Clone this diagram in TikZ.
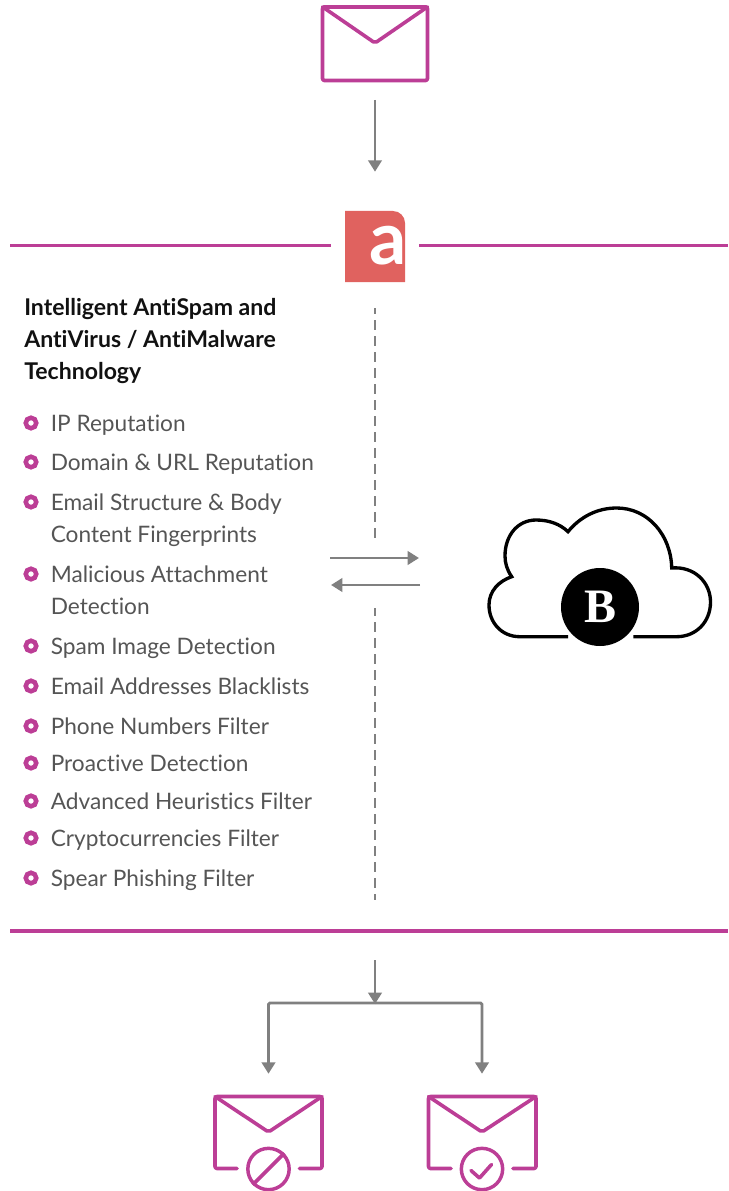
\documentclass[tikz,border=0pt]{standalone}
\usepackage{fontspec}
\setmainfont{Lato}[Ligatures=NoCommon]
\usetikzlibrary{arrows.meta,positioning,calc}
\definecolor{brandmagenta}{RGB}{188,62,150}
\definecolor{flowgray}{RGB}{128,128,128}
\definecolor{logored}{RGB}{224,98,95}
\definecolor{listgray}{RGB}{85,85,85}
\definecolor{titleblack}{RGB}{17,17,17}
\tikzset{
    rule/.style={draw=brandmagenta, line width=2.8pt},
    flow/.style={draw=flowgray, line width=2.2pt, -{Triangle[length=8.5pt,width=10pt]}},
    guide/.style={draw=flowgray, line width=2.2pt, dash pattern=on 7.5pt off 4.5pt},
    mailbox/.style={draw=brandmagenta, line width=2.8pt, line join=round, rounded corners=1.5pt, minimum width=78.7pt, minimum height=55.2pt, inner sep=0pt, outer sep=0pt},
    mailarea/.style={minimum width=80pt, minimum height=55pt, inner sep=0pt},
    mailline/.style={draw=brandmagenta, line width=2.7pt, line join=round, line cap=round, rounded corners=1.5pt},
    badge/.style={circle, draw=brandmagenta, line width=2.6pt, minimum size=31pt, inner sep=0pt},
    dot/.style={circle, draw=brandmagenta, line width=3.4pt, fill=white, minimum size=7.9pt, inner sep=0pt},
    item/.style={anchor=base west, inner sep=0pt, text=listgray, font=\fontsize{17}{20}\selectfont},
    headline/.style={anchor=base west, inner sep=0pt, text=titleblack, font=\fontsize{17.3}{20}\selectfont\bfseries},
}
\begin{document}
\begin{tikzpicture}[x=0.75pt, y=-0.75pt]
    \useasboundingbox (0,0) rectangle (728,1191);

    % Incoming mail
    \node[mailbox] (mailtop) at (375,43.7) {};
    \draw[mailline] (mailtop.north west) -- (375,43) -- (mailtop.north east);

    % Logo
    \fill[logored] (345,211) -- (391,211) [rounded corners=9pt] -- (405,211) [sharp corners] -- (405,282) -- (345,282) -- cycle;
    \node[minimum width=45pt, minimum height=53pt, inner sep=0pt] (logo) at (375,246.5) {};
    \begin{scope}
        \clip (345,211) rectangle (405,282);
        \node[anchor=base west, inner sep=0pt, text=white, font=\fontsize{55}{55}\selectfont\bfseries] (logoa) at (369,264) {a};
    \end{scope}
    \draw[flow, shorten <=14.6pt, shorten >=29.4pt] (mailtop) -- (logo);

    % Rules
    \coordinate (ruleleft) at (10,245.5);
    \coordinate (ruleright) at (728,245.5);
    \draw[rule, shorten >=10.5pt] (ruleleft) -- (logo.west |- ruleleft);
    \draw[rule, shorten >=10pt] (ruleright) -- (logo.east |- ruleright);
    \coordinate (lowleft) at (10,931);
    \coordinate (lowright) at (728,931);
    \draw[rule] (lowleft) -- (lowright);

    % Heading
    \node[headline] (head1) at (24,315) {Intelligent AntiSpam and};
    \node[headline] (head2) at (24,347) {AntiVirus / AntiMalware};
    \node[headline] (head3) at (24,379) {Technology};

    % List
    \foreach \yy/\txt in {431/IP Reputation, 470/Domain \& URL Reputation, 510/Email Structure \& Body, 582/Malicious Attachment, 654/Spam Image Detection, 694/Email Addresses Blacklists, 734/Phone Numbers Filter, 771/Proactive Detection, 809/Advanced Heuristics Filter, 846/Cryptocurrencies Filter, 886/Spear Phishing Filter} {
        \node[dot] (dot\yy) at (31,\yy-8) {};
        \node[item] (item\yy) at (50.5,\yy) {\txt};
    }
    \node[item] (item510b) at (50.5,542) {Content Fingerprints};
    \node[item] (item582b) at (50.5,614) {Detection};

    % Dashed guide
    \coordinate (guidemidtop) at (375,540);
    \coordinate (guidemidlow) at (375,608);
    \coordinate (guideend) at (375,900);
    \draw[guide, dash phase=3pt, shorten <=19.5pt] (logo.south) -- (guidemidtop);
    \draw[guide, dash phase=1.5pt] (guidemidlow) -- (guideend);

    % Cloud
    \draw[black, line width=2.5pt, line join=miter] (568,636.7) -- (520,636.7)
        .. controls (501,636.7) and (489,622) .. (489,605)
        .. controls (489,591) and (499,581) .. (511.7,576.7)
        .. controls (507,570) and (505,563) .. (505,556)
        .. controls (505,535) and (518,520) .. (536,520)
        .. controls (549,520) and (560,524) .. (568,531.7)
        .. controls (580,517) and (597,508) .. (616.7,508)
        .. controls (648,508) and (671,535) .. (671.7,568)
        .. controls (694,566) and (710.5,582) .. (710.5,602)
        .. controls (710.5,622) and (696,636.7) .. (676.7,636.7)
        -- (633.3,636.7);
    \node[circle, fill=black, minimum size=58.5pt, inner sep=0pt, text=white, font=\fontsize{36}{36}\selectfont] (cloudb) at (600,607) {\fontspec{Liberation Serif}\bfseries B};

    % Exchange arrows
    \coordinate (sendstart) at (330,558);
    \coordinate (sendend) at (419,558);
    \coordinate (backstart) at (420,585);
    \coordinate (backend) at (331,585);
    \draw[flow] (sendstart) -- (sendend);
    \draw[flow] (backstart) -- (backend);

    % Bottom branch
    \coordinate (splitstart) at (375,960);
    \coordinate (split) at (375,1004);
    \node[mailarea] (mailblock) at (268.5,1132) {};
    \node[mailarea] (mailok) at (482,1132) {};
    \draw[flow] (splitstart) -- (split);
    \draw[flow, shorten >=16pt, rounded corners=1pt] (split |- 0,1003) -| (mailblock.north);
    \draw[flow, shorten >=16pt, rounded corners=1pt] (split |- 0,1003) -| (mailok.north);

    % Blocked mail
    \draw[mailline] (237,1168.5) -- (215,1168.5) -- (215,1096.5) -- (322,1096.5) -- (322,1168.5) -- (299.5,1168.5);
    \draw[mailline] (215,1096.5) -- (268.5,1132) -- (322,1096.5);
    \node[badge] (badgeblock) at (268.5,1169) {};
    \draw[mailline, line cap=butt] (badgeblock.north east) -- (badgeblock.south west);

    % Accepted mail
    \draw[mailline] (451,1168.5) -- (428.5,1168.5) -- (428.5,1096.5) -- (536,1096.5) -- (536,1168.5) -- (513,1168.5);
    \draw[mailline] (428.5,1096.5) -- (482,1132) -- (536,1096.5);
    \node[badge] (badgeok) at (482,1169) {};
    \draw[mailline, sharp corners] (471,1170.5) -- (479.5,1178) -- (491.5,1164.5);
\end{tikzpicture}
\end{document}
